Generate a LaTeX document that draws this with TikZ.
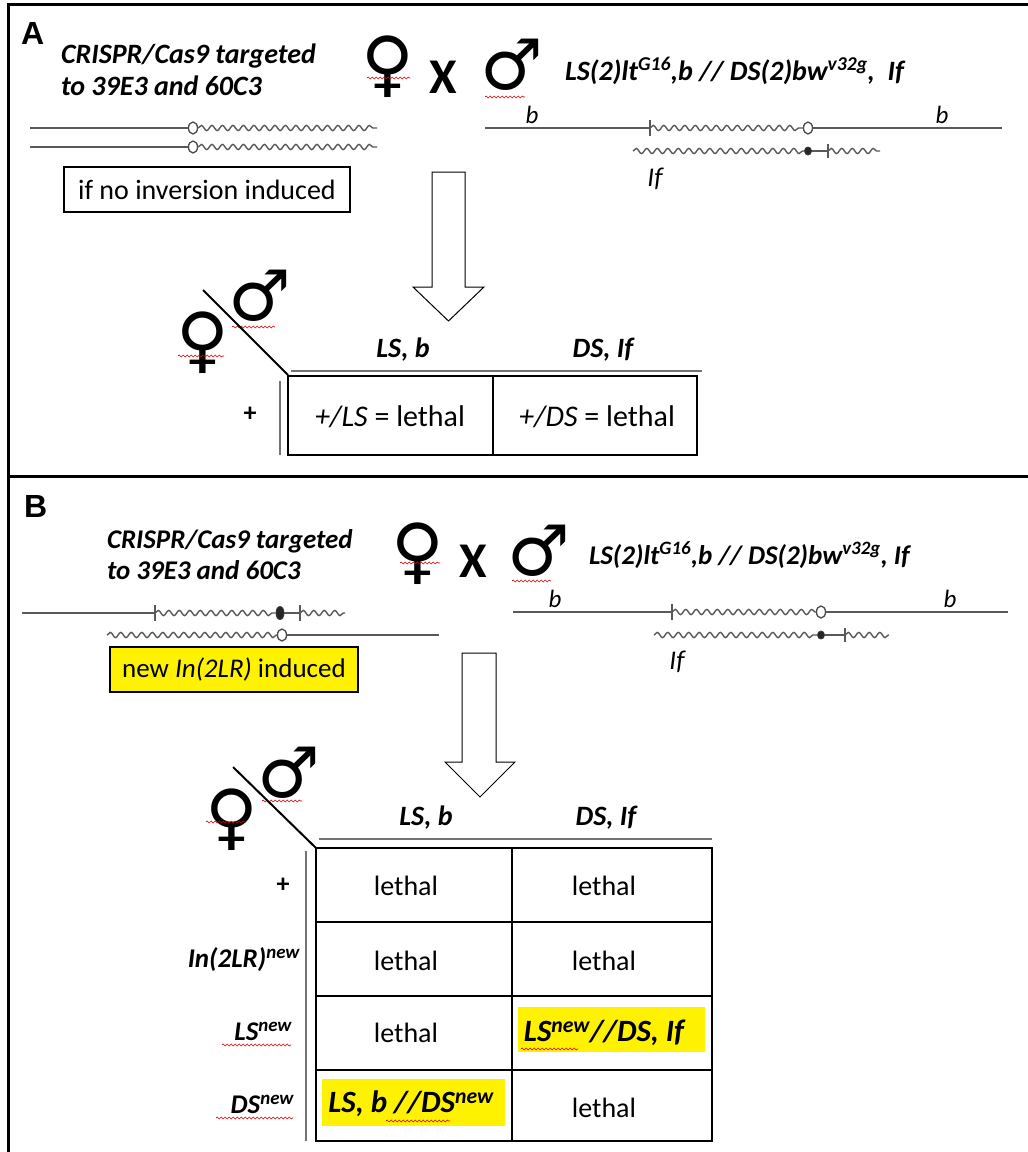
\documentclass[tikz,border=0pt]{standalone}
\usepackage{fontspec}
\setmainfont{Carlito}
\newfontfamily\panelfont{Liberation Sans}
\newfontfamily\symfont{DejaVu Sans}
\usetikzlibrary{decorations.pathmorphing,shapes.geometric}

\newcommand{\fsz}[1]{\fontsize{#1}{#1}\selectfont}
\newcommand{\bi}{\bfseries\itshape}

\tikzset{
  frame/.style={line width=3pt, draw=black},
  chrom/.style={draw=black!65, line width=1.4pt},
  wavy/.style={chrom, decorate, decoration={snake, amplitude=2.6pt, segment length=10.5pt}},
  opencen/.style={ellipse, draw=black!70, fill=white, line width=1.3pt, minimum width=9pt, minimum height=12pt, inner sep=0pt},
  fillcen/.style={ellipse, draw=black!80, fill=black!85, line width=0.8pt, minimum width=8pt, minimum height=11pt, inner sep=0pt},
  chtick/.style={draw=black!65, line width=1.4pt},
  spell/.style={draw=red!85!black, line width=0.6pt, decorate, decoration={snake, amplitude=1pt, segment length=4pt}},
  blockarrow/.style={draw=black, line width=1pt, fill=white},
  tab/.style={draw=black, line width=2.5pt},
  rule/.style={draw=black!55, line width=2pt},
  plain/.style={inner sep=0pt, outer sep=0pt},
  venus/.style={plain, font=\symfont\bfseries\fsz{72}},
  mars/.style={plain, font=\symfont\bfseries\fsz{70}},
  cross/.style={plain, font=\bfseries\fsz{50}},
  crisp/.style={plain, anchor=base west, font=\bi\fsz{#1}},
  crisp/.default=28,
  geno/.style={plain, anchor=base west, font=\bi\fsz{#1}},
  geno/.default=28,
  gene/.style={plain, font=\itshape\fsz{25}},
  head/.style={plain, font=\bi\fsz{28}},
  rowlab/.style={plain, anchor=east, font=\bi\fsz{27}},
  cell/.style={plain, font=\fsz{#1}},
  cell/.default=28,
  hicell/.style={plain, font=\bi\fsz{31}},
  hibox/.style={fill=yellow, draw=none},
}

\begin{document}
\begin{tikzpicture}[x=1pt,y=-1pt]
\useasboundingbox (0,0) rectangle (1028,1152);
\fill[white] (0,0) rectangle (1028,1152);

% outer frame and panel divider
\draw[frame] (1028,4) -- (8,4) -- (8,1152);
\draw[frame] (8,476) -- (1028,476);

% ================= panel A =================
\node[plain, anchor=base west, font=\panelfont\bfseries\fsz{32}] (labA) at (21,44) {A};
\node[crisp] (critA1) at (61,63) {CRISPR/Cas9 targeted};
\node[crisp] (critA2) at (61,95) {to 39E3 and 60C3};

\node[venus] (venA) at (388,67) {♀};
\node[cross] (xA) at (443,77) {X};
\node[mars] (marA) at (512,65) {♂};
\draw[spell] (367,78) -- (410,78);
\draw[spell] (485,97) -- (525,97);
\node[geno] (genoA) at (565,80) {LS(2)lt\textsuperscript{G16},b // DS(2)bw\textsuperscript{v32g},\ \ If};

% female chromosomes, no inversion
\draw[chrom] (30,128) -- (188,128);
\node[opencen] (cA1) at (193,128) {};
\draw[wavy] (cA1.east) -- (377,128);
\draw[chrom] (30,147) -- (188,147);
\node[opencen] (cA2) at (193,147) {};
\draw[wavy] (cA2.east) -- (377,147);

\node[plain, draw, line width=1.3pt, minimum width=286pt, minimum height=45pt, font=\fsz{28}] (noinv) at (207,189.5) {if no inversion induced};

% male balancer chromosomes
\draw[chrom] (485,128) -- (650,128);
\draw[chtick] (650,120) -- (650,136);
\node[opencen] (cA3) at (808,128) {};
\draw[wavy] (650,128) -- (cA3.west);
\draw[chrom] (cA3.east) -- (1002,128);
\node[fillcen, minimum width=7pt, minimum height=8pt] (cA4) at (808,151) {};
\draw[wavy] (633,151) -- (cA4.west);
\draw[chrom] (cA4.east) -- (828,151);
\draw[chtick] (828,144) -- (828,158);
\draw[wavy] (828,151) -- (880,151);
\node[gene] (bA1) at (532,115) {b};
\node[gene] (bA2) at (942,115) {b};
\node[gene, font=\itshape\fsz{27}] (ifA) at (655,179) {If};

% cross arrow A
\draw[blockarrow] (432,172) -- (465,172) -- (465,287) -- (484,287) -- (448.5,321) -- (413,287) -- (432,287) -- cycle;

% Punnett table A
\node[venus] (venTA) at (203,343) {♀};
\node[mars] (marTA) at (260,296) {♂};
\draw[spell] (178,356) -- (224,356);
\draw[spell] (232,327) -- (275,327);
\coordinate (dA1) at (203,290);
\coordinate (dA2) at (288,375);
\draw[line width=2pt] (dA1) -- (dA2);
\draw[rule] (291,371) -- (702,371);
\draw[rule] (280,381) -- (280,455);
\draw[tab] (288,376) rectangle (697,455);
\draw[tab] (493,376) -- (493,455);
\node[head] (hA1) at (403,350) {LS, b};
\node[head] (hA2) at (603,350) {DS, If};
\node[plain, font=\bfseries\fsz{26}] (rA1) at (250,414) {+};
\node[cell=30] (cellA1) at (390,417) {\textit{+/LS} = lethal};
\node[cell=30] (cellA2) at (597,417) {\textit{+/DS} = lethal};

% ================= panel B =================
\node[plain, anchor=base west, font=\panelfont\bfseries\fsz{32}] (labB) at (24,517) {B};
\node[crisp=27] (critB1) at (107,548) {CRISPR/Cas9 targeted};
\node[crisp=27] (critB2) at (107,579) {to 39E3 and 60C3};

\node[venus] (venB) at (418,554) {♀};
\node[cross] (xB) at (473,561) {X};
\node[mars] (marB) at (539,551) {♂};
\draw[spell] (400,563) -- (440,563);
\draw[spell] (512,581) -- (551,581);
\node[geno=27] (genoB) at (589,564) {LS(2)lt\textsuperscript{G16},b // DS(2)bw\textsuperscript{v32g}, If};

% female chromosomes carrying the new inversion
\draw[chrom] (22,613) -- (155,613);
\draw[chtick] (155,605) -- (155,621);
\node[fillcen, minimum height=13pt] (cB1) at (280,613) {};
\draw[wavy] (155,613) -- (cB1.west);
\draw[chrom] (cB1.east) -- (300,613);
\draw[chtick] (300,605) -- (300,621);
\draw[wavy] (300,613) -- (345,613);
\node[opencen] (cB2) at (282,635) {};
\draw[wavy] (107,635) -- (cB2.west);
\draw[chrom] (cB2.east) -- (439,635);

\node[plain, hibox, draw=black, line width=1.3pt, minimum width=248pt, minimum height=45pt, font=\fsz{27}] (newinv) at (234,669.5) {new \textit{In(2LR)} induced};

% male balancer chromosomes
\draw[chrom] (513,612) -- (672,612);
\draw[chtick] (672,604) -- (672,620);
\node[opencen] (cB3) at (821,612) {};
\draw[wavy] (672,612) -- (cB3.west);
\draw[chrom] (cB3.east) -- (1008,612);
\node[fillcen, minimum width=7pt, minimum height=8pt] (cB4) at (821,635) {};
\draw[wavy] (654,635) -- (cB4.west);
\draw[chrom] (cB4.east) -- (845,635);
\draw[chtick] (845,628) -- (845,642);
\draw[wavy] (845,635) -- (889,635);
\node[gene] (bB1) at (555,599) {b};
\node[gene] (bB2) at (950,599) {b};
\node[gene, font=\itshape\fsz{27}] (ifB) at (677,662) {If};

% cross arrow B
\draw[blockarrow] (462,653) -- (496,653) -- (496,762) -- (515,762) -- (480,797) -- (445,762) -- (462,762) -- cycle;

% Punnett table B
\node[venus] (venTB) at (232,820) {♀};
\node[mars] (marTB) at (289,773) {♂};
\draw[spell] (206,822) -- (246,822);
\draw[spell] (262,801) -- (302,801);
\coordinate (dB1) at (233,767);
\coordinate (dB2) at (316,848);
\draw[line width=2pt] (dB1) -- (dB2);
\draw[rule] (319,839) -- (712,839);
\draw[rule] (306,851) -- (306,1141);

\fill[yellow] (518,1007) rectangle (705,1052);
\fill[yellow] (322,1079) rectangle (505,1126);

\draw[tab] (316,848) rectangle (712,1141);
\draw[tab] (512,848) -- (512,1141);
\draw[tab] (316,922) -- (712,922);
\draw[tab] (316,996) -- (712,996);
\draw[tab] (316,1070) -- (712,1070);

\node[head] (hB1) at (426,818) {LS, b};
\node[head] (hB2) at (606,818) {DS, If};

\node[plain, font=\bfseries\fsz{26}] (rB1) at (283,885) {+};
\node[rowlab] (rB2) at (300,960) {In(2LR)\textsuperscript{new}};
\node[rowlab] (rB3) at (292,1031) {LS\textsuperscript{new}};
\node[rowlab] (rB4) at (294,1104) {DS\textsuperscript{new}};
\draw[spell] (222,1045) -- (291,1045);
\draw[spell] (216,1118) -- (293,1118);

\node[cell] (c11) at (406,886) {lethal};
\node[cell] (c12) at (604,886) {lethal};
\node[cell] (c21) at (406,961) {lethal};
\node[cell] (c22) at (604,961) {lethal};
\node[cell] (c31) at (406,1033) {lethal};
\node[hicell] (c32) at (604,1033) {LS\textsuperscript{new}//DS, If};
\node[hicell] (c41) at (411,1104) {LS, b //DS\textsuperscript{new}};
\node[cell] (c42) at (604,1108) {lethal};
\draw[spell] (521,1049) -- (578,1049);
\draw[spell] (386,1121) -- (450,1121);
\end{tikzpicture}
\end{document}
